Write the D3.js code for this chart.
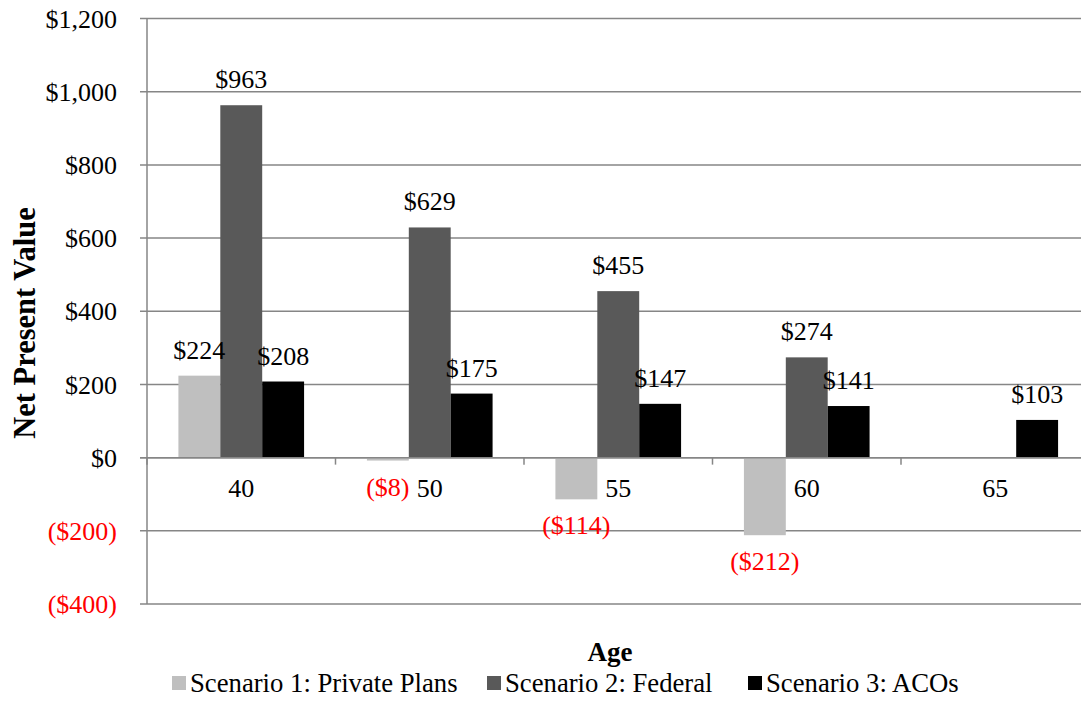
<!DOCTYPE html>
<html><head><meta charset="utf-8">
<script src="https://cdn.jsdelivr.net/npm/d3@7"></script>
<style>
html,body{margin:0;padding:0;background:#fff;}
svg{display:block;font-family:"Liberation Serif","Times New Roman",serif;}
</style></head>
<body><svg id="c" width="1081" height="710"></svg>
<script>
const ages = ["40","50","55","60","65"];
const seriesNames = ["Scenario 1: Private Plans","Scenario 2: Federal","Scenario 3: ACOs"];
const scenario1 = [224, -8, -114, -212, null];
const scenario2 = [963, 629, 455, 274, null];
const scenario3 = [208, 175, 147, 141, 103];
const yTicks = [-400, -200, 0, 200, 400, 600, 800, 1000, 1200];
const colors = ["#BFBFBF", "#595959", "#000000"];

(function(){
const svg = d3.select("#c");
const W = 1081, H = 710;
const pLeft = 147, pRight = 1089.5, pTop = 18.5, pBottom = 604;
const grid = "#868686";
const fs = 26;

const y = d3.scaleLinear().domain([-400, 1200]).range([pBottom, pTop]);
const x = d3.scaleBand().domain(ages).range([pLeft, pRight]).paddingInner(0).paddingOuter(0);
const xs = d3.scaleBand().domain(seriesNames).range([0, x.bandwidth()]).paddingInner(0).paddingOuter(0.75);

const money = v => {
  const s = d3.format(",")(Math.abs(v));
  return v < 0 ? "($" + s + ")" : "$" + s;
};

// gridlines
svg.append("g").selectAll("line").data(yTicks).join("line")
  .attr("x1", pLeft - 7).attr("x2", W)
  .attr("y1", d => y(d)).attr("y2", d => y(d))
  .attr("stroke", grid).attr("stroke-width", 1.5);

// y axis line
svg.append("line").attr("x1", pLeft).attr("x2", pLeft).attr("y1", pTop).attr("y2", pBottom)
  .attr("stroke", grid).attr("stroke-width", 1.5);

// y tick labels
svg.append("g").selectAll("text").data(yTicks).join("text")
  .attr("x", 117).attr("y", d => y(d)).attr("dy", "0.35em")
  .attr("text-anchor", "end").attr("font-size", fs)
  .attr("fill", d => d < 0 ? "#FF0000" : "#000")
  .text(d => money(d));

// bars
const data = [scenario1, scenario2, scenario3];
const flat = [];
data.forEach((arr, si) => arr.forEach((v, ci) => {
  if (v !== null) flat.push({s: si, c: ci, v});
}));
svg.append("g").selectAll("rect").data(flat).join("rect")
  .attr("x", d => x(ages[d.c]) + xs(seriesNames[d.s]))
  .attr("width", xs.bandwidth())
  .attr("y", d => y(Math.max(0, d.v)))
  .attr("height", d => Math.abs(y(d.v) - y(0)))
  .attr("fill", d => colors[d.s]);

// zero line on top + category ticks
svg.append("line").attr("x1", pLeft - 7).attr("x2", W).attr("y1", y(0)).attr("y2", y(0))
  .attr("stroke", grid).attr("stroke-width", 1.5);
svg.append("g").selectAll("line").data(d3.range(ages.length + 1)).join("line")
  .attr("x1", i => pLeft + i * x.bandwidth()).attr("x2", i => pLeft + i * x.bandwidth())
  .attr("y1", y(0)).attr("y2", y(0) + 7)
  .attr("stroke", grid).attr("stroke-width", 1.5);

// category labels
svg.append("g").selectAll("text").data(ages).join("text")
  .attr("x", d => x(d) + x.bandwidth() / 2).attr("y", y(0) + 39)
  .attr("text-anchor", "middle").attr("font-size", fs).text(d => d);

// data labels
svg.append("g").selectAll("text").data(flat).join("text")
  .attr("x", d => x(ages[d.c]) + xs(seriesNames[d.s]) + xs.bandwidth() / 2)
  .attr("y", d => d.v >= 0 ? y(d.v) - 17 : y(d.v) + 35)
  .attr("text-anchor", "middle").attr("font-size", fs)
  .attr("fill", d => d.v < 0 ? "#FF0000" : "#000")
  .text(d => money(d.v));

// axis titles
svg.append("text").attr("transform", "translate(35,323) rotate(-90)")
  .attr("text-anchor", "middle").attr("font-size", 30.5).attr("font-weight", "bold")
  .text("Net Present Value");
svg.append("text").attr("x", 610).attr("y", 661)
  .attr("text-anchor", "middle").attr("font-size", 27).attr("font-weight", "bold")
  .text("Age");

// legend
const legX = [172, 487, 748];
const lg = svg.append("g").selectAll("g").data(seriesNames).join("g")
  .attr("transform", (d, i) => `translate(${legX[i]},0)`);
lg.append("rect").attr("x", 0).attr("y", 676).attr("width", 14).attr("height", 14)
  .attr("fill", (d, i) => colors[i]);
lg.append("text").attr("x", 18).attr("y", 692).attr("font-size", 26.7).text(d => d);
})();
</script></body></html>
